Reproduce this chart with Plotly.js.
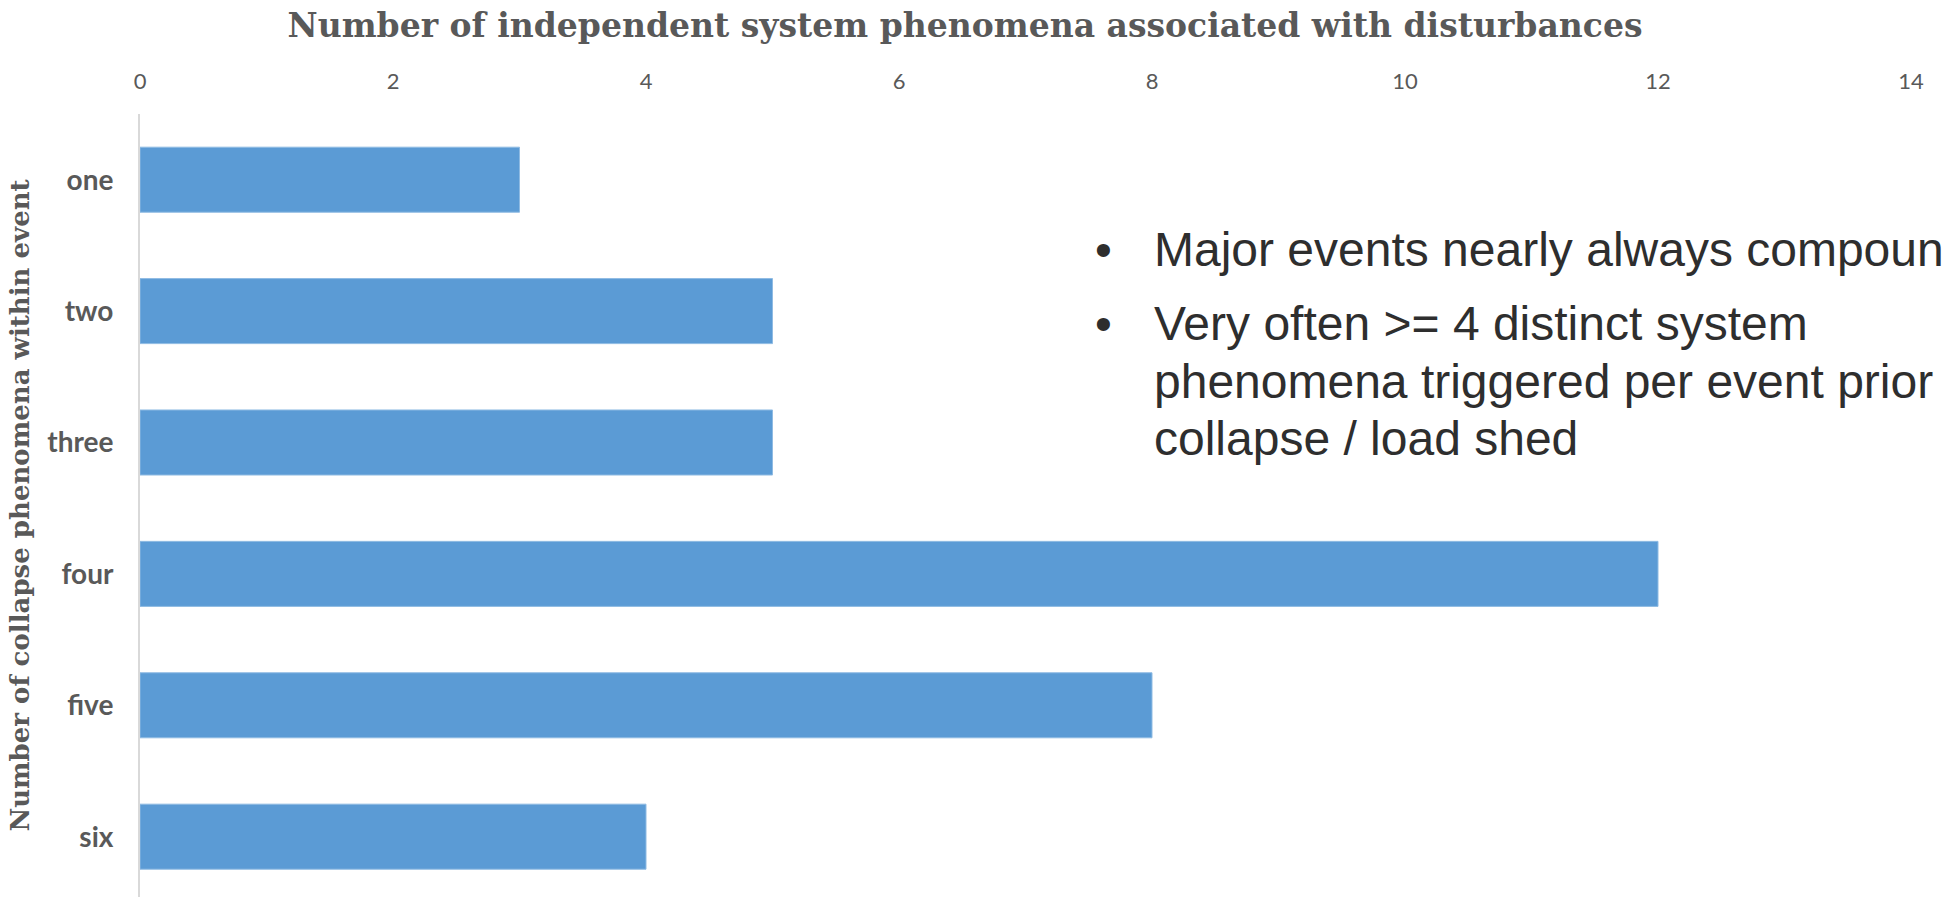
<!DOCTYPE html>
<html>
<head>
<meta charset="utf-8">
<script src="https://cdn.plot.ly/plotly-3.0.1.min.js"></script>
<style>
  html, body { margin: 0; padding: 0; background: #ffffff; overflow: hidden; }
  #chart { width: 1944px; height: 897px; }
</style>
</head>
<body>
<div id="chart"></div>
<script>
// Number of collapse phenomena within an event (categories) and how many events had that many
const categories = ['one', 'two', 'three', 'four', 'five', 'six'];
const eventCounts = [3, 5, 5, 12, 8, 4];
const xTickValues = [0, 2, 4, 6, 8, 10, 12, 14];

const chartTitle = 'Number of independent system phenomena associated with disturbances';
const yAxisTitle = 'Number of collapse phenomena within event';
const bulletLines = [
  ['Major events nearly always compound'],
  ['Very often >= 4 distinct system', 'phenomena triggered per event prior to', 'collapse / load shed']
];

const W = 1944, H = 897;
const M = { l: 140, r: 33, t: 114, b: 0 };
const plotW = W - M.l - M.r, plotH = H - M.t - M.b;
// pixel -> paper helpers for the side text
const px = x => (x - M.l) / plotW;
const py = y => (H - M.b - y) / plotH;

const grey = '#595959';

const trace = {
  type: 'bar',
  orientation: 'h',
  y: categories,
  x: eventCounts,
  marker: { color: '#5b9bd5', line: { color: '#8fbbe3', width: 1 } },
  hoverinfo: 'x+y'
};

// bullet list: line centres laid out by hand in pixels
const lineCentres = [[249], [323, 381, 438]];
const annotations = [];
bulletLines.forEach((lines, i) => {
  annotations.push({
    xref: 'paper', yref: 'paper', x: px(1103), y: py(lineCentres[i][0]),
    xanchor: 'center', yanchor: 'middle', showarrow: false,
    text: '\u2022', font: { family: 'Liberation Sans, Arial, sans-serif', size: 48, color: '#2e2e2e' }
  });
  lines.forEach((t, j) => {
    annotations.push({
      xref: 'paper', yref: 'paper', x: px(1152), y: py(lineCentres[i][j]),
      xanchor: 'left', yanchor: 'middle', showarrow: false, align: 'left',
      text: t, font: { family: 'Liberation Sans, Arial, sans-serif', size: 48, color: '#2e2e2e' }
    });
  });
});

const layout = {
  width: W, height: H,
  margin: M,
  paper_bgcolor: '#ffffff', plot_bgcolor: '#ffffff',
  showlegend: false,
  bargap: 0.505,
  title: {
    text: chartTitle,
    xref: 'container', yref: 'container',
    x: 965 / W, y: 1 - 25 / H, xanchor: 'center', yanchor: 'middle',
    font: { family: 'DejaVu Serif, serif', size: 33, color: grey, weight: 'bold' }
  },
  xaxis: {
    side: 'top',
    range: [0, 14],
    tickvals: xTickValues,
    showgrid: false, zeroline: false, showline: false,
    ticks: '', ticklabelstandoff: 20,
    tickfont: { family: 'Lato, sans-serif', size: 22, color: grey },
    fixedrange: true
  },
  yaxis: {
    type: 'category',
    range: [5.459, -0.5],
    showgrid: false, zeroline: false,
    showline: true, linecolor: '#d9d9d9', linewidth: 2,
    ticks: '', ticklabelstandoff: 19,
    tickfont: { family: 'Lato, sans-serif', size: 28, color: grey, weight: 'bold' },
    title: {
      text: yAxisTitle, standoff: 10,
      font: { family: 'DejaVu Serif, serif', size: 26, color: grey, weight: 'bold' }
    },
    automargin: false,
    fixedrange: true
  },
  annotations: annotations
};

Plotly.newPlot('chart', [trace], layout, { displayModeBar: false, staticPlot: true });
</script>
</body>
</html>
